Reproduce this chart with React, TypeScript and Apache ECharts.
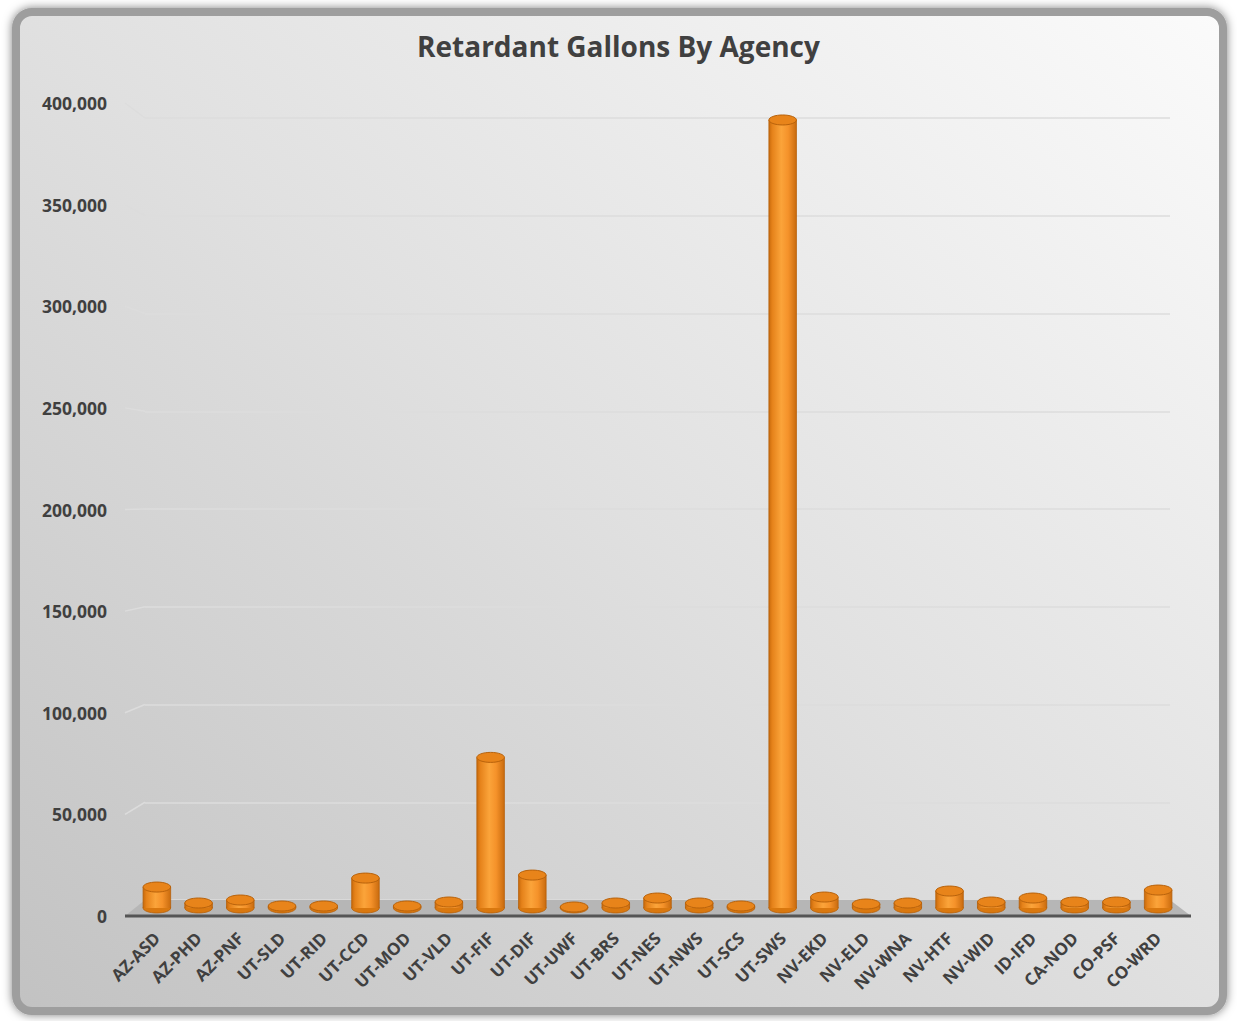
import React, { useEffect, useRef } from "react";
import * as echarts from "echarts";

const categories = [
  "AZ-ASD", "AZ-PHD", "AZ-PNF", "UT-SLD", "UT-RID", "UT-CCD", "UT-MOD", "UT-VLD",
  "UT-FIF", "UT-DIF", "UT-UWF", "UT-BRS", "UT-NES", "UT-NWS", "UT-SCS", "UT-SWS",
  "NV-EKD", "NV-ELD", "NV-WNA", "NV-HTF", "NV-WID", "ID-IFD", "CA-NOD", "CO-PSF", "CO-WRD",
];
const gallons = [
  10500, 2500, 4000, 1000, 1000, 15000, 1000, 3000,
  75500, 16500, 500, 2500, 5000, 2500, 1000, 395000,
  5500, 2000, 2500, 8500, 3000, 5000, 3000, 3000, 9000,
];
const tickValues = [0, 50000, 100000, 150000, 200000, 250000, 300000, 350000, 400000];

const W = 1237;
const H = 1021;
// layout (pixels)
const MID = { left: 136, right: W - 1179, top: 110, bottom: H - 908 };
const BACK = { left: 145, right: W - 1170, top: 118, bottom: H - 900 };
const FRONT = { left: 125, right: W - 1191, top: 103, bottom: H - 916 };

const TEXT = "#404040";
const FONT = "'Open Sans', 'DejaVu Sans', sans-serif";

function baseGraphics(): any[] {
  return [
    {
      type: "rect",
      id: "card",
      z: -100,
      silent: true,
      shape: { x: 16, y: 12, width: W - 30, height: H - 22, r: 16 },
      style: {
        fill: new echarts.graphic.LinearGradient(1, 0, 0, 1, [
          { offset: 0, color: "#fbfbfb" },
          { offset: 0.5, color: "#e0e0e0" },
          { offset: 1, color: "#c2c2c2" },
        ]),
        stroke: "#9e9e9e",
        lineWidth: 8,
        shadowBlur: 10,
        shadowColor: "rgba(0,0,0,0.5)",
      },
    },
    {
      type: "polygon",
      id: "floor",
      z: 1,
      silent: true,
      shape: {
        points: [
          [FRONT.left, H - FRONT.bottom],
          [BACK.left, H - BACK.bottom],
          [W - BACK.right, H - BACK.bottom],
          [W - FRONT.right, H - FRONT.bottom],
        ],
      },
      style: { fill: "#b6b6b6" },
    },
    {
      type: "line",
      id: "frontEdge",
      z: 2,
      silent: true,
      shape: { x1: FRONT.left, y1: H - FRONT.bottom, x2: W - FRONT.right, y2: H - FRONT.bottom },
      style: { stroke: "#555555", lineWidth: 3 },
    },
  ];
}

export default function App() {
  const ref = useRef<HTMLDivElement>(null);
  useEffect(() => {
    if (!ref.current) return;
    const chart = echarts.init(ref.current, undefined, { renderer: "svg" });
    const option: any = {
      animation: false,
      backgroundColor: "transparent",
      title: {
        text: "Retardant Gallons By Agency",
        left: "center",
        top: 27,
        textStyle: { fontFamily: FONT, fontSize: 28, fontWeight: "bold", color: TEXT },
      },
      grid: [
        { ...MID },
        { ...BACK },
        { ...FRONT },
      ],
      xAxis: [
        {
          type: "category",
          gridIndex: 0,
          data: categories,
          axisLine: { show: false },
          axisTick: { show: false },
          axisLabel: {
            interval: 0,
            rotate: 45,
            margin: 27,
            fontFamily: FONT,
            fontSize: 17,
            fontWeight: "bold",
            color: TEXT,
          },
        },
        { type: "category", gridIndex: 1, data: categories, show: false },
        { type: "category", gridIndex: 2, data: categories, show: false },
      ],
      yAxis: [
        { type: "value", gridIndex: 0, min: 0, max: 400000, interval: 50000, show: false },
        {
          type: "value",
          gridIndex: 1,
          min: 0,
          max: 400000,
          interval: 50000,
          axisLine: { show: false },
          axisTick: { show: false },
          axisLabel: { show: false },
          splitLine: { show: true, lineStyle: { color: "#dcdcdc", width: 1.5 } },
        },
        {
          type: "value",
          gridIndex: 2,
          min: 0,
          max: 400000,
          interval: 50000,
          axisLine: { show: false },
          axisTick: { show: false },
          splitLine: { show: false },
          axisLabel: {
            margin: 18,
            fontFamily: FONT,
            fontSize: 17.5,
            fontWeight: "bold",
            color: TEXT,
            formatter: (v: number) => v.toLocaleString("en-US"),
          },
        },
      ],
      graphic: baseGraphics(),
      series: [
        {
          type: "custom",
          xAxisIndex: 0,
          yAxisIndex: 0,
          z: 5,
          data: gallons.map((v, i) => [i, v]),
          renderItem: (params: any, api: any) => {
            const idx = api.value(0);
            const val = api.value(1);
            const top = api.coord([idx, val]);
            const base = api.coord([idx, 0]);
            const w = api.size([1, 0])[0] * 0.66;
            const rx = w / 2;
            const ry = 5;
            const x0 = top[0] - rx;
            const bodyGrad = new echarts.graphic.LinearGradient(0, 0, 1, 0, [
              { offset: 0, color: "#c86a0c" },
              { offset: 0.12, color: "#e5821a" },
              { offset: 0.45, color: "#fba43a" },
              { offset: 0.7, color: "#f5922a" },
              { offset: 1, color: "#c96b0e" },
            ]);
            return {
              type: "group",
              children: [
                {
                  type: "ellipse",
                  shape: { cx: base[0], cy: base[1], rx, ry },
                  style: { fill: "#d9780f", stroke: "#b5600a", lineWidth: 0.8 },
                },
                {
                  type: "rect",
                  shape: { x: x0, y: top[1], width: w, height: Math.max(base[1] - top[1], 0) },
                  style: { fill: bodyGrad },
                },
                {
                  type: "line",
                  shape: { x1: x0, y1: top[1], x2: x0, y2: base[1] },
                  style: { stroke: "#b5600a", lineWidth: 0.8 },
                },
                {
                  type: "line",
                  shape: { x1: x0 + w, y1: top[1], x2: x0 + w, y2: base[1] },
                  style: { stroke: "#b5600a", lineWidth: 0.8 },
                },
                {
                  type: "ellipse",
                  shape: { cx: top[0], cy: top[1], rx, ry },
                  style: { fill: "#e8841a", stroke: "#b8620b", lineWidth: 1 },
                },
              ],
            };
          },
        },
      ],
    };
    chart.setOption(option);

    // side-wall connectors from the front label plane to the back-wall gridlines
    const connectors = tickValues.slice(1).map((v, i) => {
      const yF = chart.convertToPixel({ yAxisIndex: 2 } as any, v) as unknown as number;
      const yB = chart.convertToPixel({ yAxisIndex: 1 } as any, v) as unknown as number;
      return {
        type: "line",
        id: "conn" + i,
        z: 1,
        silent: true,
        shape: { x1: FRONT.left, y1: yF, x2: BACK.left, y2: yB },
        style: { stroke: "#dcdcdc", lineWidth: 1.5 },
      };
    });
    chart.setOption({ graphic: [...baseGraphics(), ...connectors] });

    return () => chart.dispose();
  }, []);
  return (
    <div
      ref={ref}
      style={{ position: "fixed", left: 0, top: 0, width: W, height: H, background: "#ffffff" }}
    />
  );
}
